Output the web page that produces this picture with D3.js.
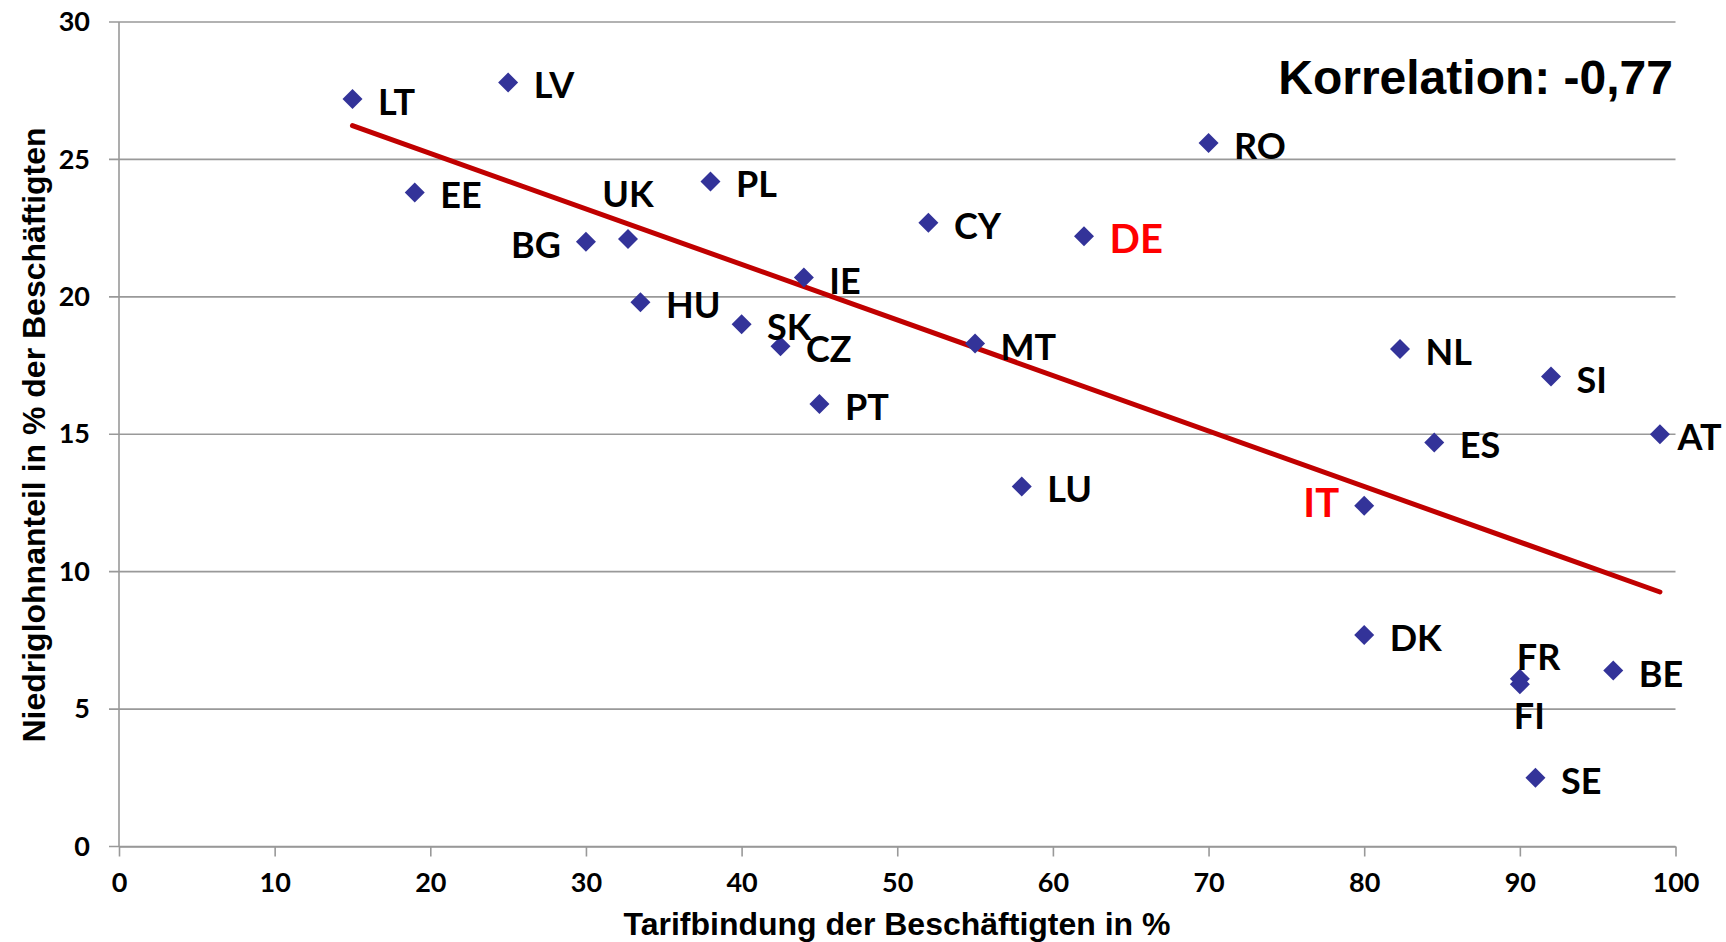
<!DOCTYPE html>
<html>
<head>
<meta charset="utf-8">
<script src="https://cdn.jsdelivr.net/npm/d3@7"></script>
<style>
  html, body { margin: 0; padding: 0; background: #ffffff; }
  svg { display: block; }
</style>
</head>
<body>
<svg id="chart" width="1726" height="942"></svg>
<script>
// ---- data ----
const countries = ["LT","LV","EE","BG","UK","PL","HU","SK","CZ","IE","PT","CY","MT","LU","DE","RO","NL","ES","SI","AT","IT","DK","FR","FI","BE","SE"];
const tarifbindung = [15, 25, 19, 30, 32.7, 38, 33.5, 40, 42.5, 44, 45, 52, 55, 58, 62, 70, 82.3, 84.5, 92, 99, 80, 80, 90, 90, 96, 91];
const niedriglohn = [27.2, 27.8, 23.8, 22.0, 22.1, 24.2, 19.8, 19.0, 18.2, 20.7, 16.1, 22.7, 18.3, 13.1, 22.2, 25.6, 18.1, 14.7, 17.1, 15.0, 12.4, 7.7, 6.1, 5.9, 6.4, 2.5];
const highlighted = ["DE", "IT"];
const trendX = [15, 99];
const trendY = [26.23, 9.26];
const xTicks = [0, 10, 20, 30, 40, 50, 60, 70, 80, 90, 100];
const yTicks = [0, 5, 10, 15, 20, 25, 30];
const xTitle = "Tarifbindung der Beschäftigten in %";
const yTitle = "Niedriglohnanteil in % der Beschäftigten";
const corrText = "Korrelation: -0,77";

// ---- label placement (layout only) ----
const placement = { BG: "left", IT: "leftHigh", UK: "above", FR: "aboveClose", FI: "below", AT: "rightClose" };

// ---- layout ----
const svg = d3.select("#chart");
const x = d3.scaleLinear().domain([0, 100]).range([119, 1675.5]);
const y = d3.scaleLinear().domain([0, 30]).range([846.5, 22]);
const gridColor = "#999999";
const tickFont = "Lato, 'Open Sans', sans-serif";

// gridlines (horizontal) incl. small outer tick to the left
svg.append("g").selectAll("line").data(yTicks).join("line")
  .attr("x1", x(0) - 10).attr("x2", x(100))
  .attr("y1", d => y(d)).attr("y2", d => y(d))
  .attr("stroke", gridColor).attr("stroke-width", 1.6);

// y axis line
svg.append("line")
  .attr("x1", x(0)).attr("x2", x(0))
  .attr("y1", y(30)).attr("y2", y(0))
  .attr("stroke", gridColor).attr("stroke-width", 1.6);

// y axis labels
const yAxis = svg.append("g").attr("transform", `translate(${x(0)},0)`)
  .call(d3.axisLeft(y).tickValues(yTicks).tickSize(0).tickPadding(29).tickFormat(d3.format("d")));
yAxis.select(".domain").remove();
yAxis.selectAll("text")
  .attr("font-family", tickFont).attr("font-weight", "bold")
  .attr("font-size", 27).attr("fill", "#000");

// x axis
const xAxis = svg.append("g").attr("transform", `translate(0,${y(0)})`)
  .call(d3.axisBottom(x).tickValues(xTicks).tickSize(10).tickSizeOuter(0).tickPadding(16).tickFormat(d3.format("d")));
xAxis.select(".domain").attr("stroke", gridColor).attr("stroke-width", 1.6);
xAxis.selectAll(".tick line").attr("stroke", gridColor).attr("stroke-width", 1.6);
xAxis.selectAll("text")
  .attr("font-family", tickFont).attr("font-weight", "bold")
  .attr("font-size", 27).attr("fill", "#000");

// trend line
svg.append("path")
  .datum(trendX.map((v, i) => [v, trendY[i]]))
  .attr("d", d3.line().x(d => x(d[0])).y(d => y(d[1])))
  .attr("fill", "none").attr("stroke", "#c00000")
  .attr("stroke-width", 5).attr("stroke-linecap", "round");

// points
const pts = countries.map((c, i) => ({ c, xv: tarifbindung[i], yv: niedriglohn[i] }));
svg.append("g").selectAll("path").data(pts).join("path")
  .attr("transform", d => `translate(${x(d.xv)},${y(d.yv)})`)
  .attr("d", "M0,-10L10,0L0,10L-10,0Z")
  .attr("fill", "#333399");

// labels
svg.append("g").selectAll("text").data(pts).join("text")
  .each(function (d) {
    const p = placement[d.c] || "right";
    const px = x(d.xv), py = y(d.yv);
    let tx = px + 25.5, ty = py + 2, anchor = "start";
    if (p === "left") { tx = px - 25; anchor = "end"; }
    if (p === "leftHigh") { tx = px - 25; ty = py - 4; anchor = "end"; }
    if (p === "above") { tx = px; ty = py - 46; anchor = "middle"; }
    if (p === "aboveClose") { tx = px - 3; ty = py - 23; }
    if (p === "below") { tx = px - 6; ty = py + 31; }
    if (p === "rightClose") { tx = px + 17.5; ty = py + 2; }
    const hl = highlighted.includes(d.c);
    d3.select(this)
      .attr("x", tx).attr("y", ty)
      .attr("text-anchor", anchor)
      .attr("dominant-baseline", "central")
      .attr("font-family", tickFont).attr("font-weight", "bold")
      .attr("font-size", hl ? 40 : 36)
      .attr("fill", hl ? "#ff0000" : "#000000")
      .text(d.c);
  });

// correlation text
svg.append("text")
  .attr("x", 1673).attr("y", 94)
  .attr("text-anchor", "end")
  .attr("font-family", "'Liberation Sans', Arial, sans-serif").attr("font-weight", "bold")
  .attr("font-size", 48).attr("fill", "#000")
  .text(corrText);

// axis titles
svg.append("text")
  .attr("x", 897).attr("y", 935)
  .attr("text-anchor", "middle")
  .attr("font-family", "'Liberation Sans', Arial, sans-serif").attr("font-weight", "bold")
  .attr("font-size", 32).attr("fill", "#000")
  .text(xTitle);

svg.append("text")
  .attr("transform", "translate(45,435) rotate(-90)")
  .attr("text-anchor", "middle")
  .attr("font-family", "'Liberation Sans', Arial, sans-serif").attr("font-weight", "bold")
  .attr("font-size", 32).attr("fill", "#000")
  .text(yTitle);
</script>
</body>
</html>
